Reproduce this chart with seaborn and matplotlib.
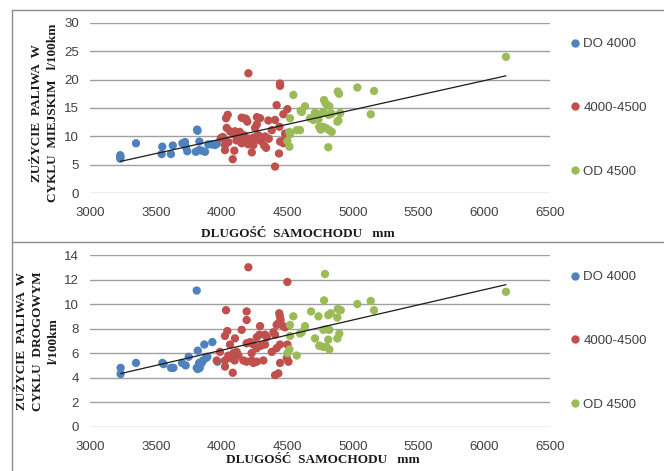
import numpy as np
import pandas as pd
import seaborn as sns
import matplotlib
matplotlib.use("Agg")
import matplotlib.pyplot as plt
from matplotlib.lines import Line2D

# ---- data: car length (mm) vs fuel consumption (l/100km) ----
groups = ["DO 4000", "4000-4500", "OD 4500"]
colors = ["#4F81BD", "#C0504D", "#9BBB59"]

# urban cycle
city_do4000_x = [3230, 3230, 3232, 3350, 3550, 3545, 3616, 3630, 3703, 3723, 3728, 3740,
                 3815, 3818, 3832, 3805, 3830, 3850, 3875, 3900, 3926, 3951, 3965]
city_do4000_y = [6.7, 6.1, 6.4, 8.8, 8.2, 6.9, 6.9, 8.4, 8.8, 9.0, 8.2, 7.4,
                 11.2, 11.0, 9.1, 7.3, 7.6, 7.5, 7.3, 8.6, 8.6, 8.5, 8.7]
city_mid_x = [4205, 4446, 4446, 4420, 4502, 4471, 4035, 4048, 4154, 4187, 4197, 4294,
              4357, 4408, 4168, 4270, 4040, 4256, 4269, 4441, 4065, 4103, 4091, 3995,
              4010, 4015, 4129, 4160, 4190, 4218, 4154, 4180, 4205, 4230, 4243, 4269,
              4281, 4332, 4383, 4446, 4471, 4497, 4484, 4492, 4027, 4053, 4027, 4098,
              4086, 4231, 4325, 4340, 4438, 4408, 4115, 4245, 4260, 4300, 4360, 4140,
              4175, 4472]
city_mid_y = [21.1, 19.3, 18.9, 15.5, 14.8, 13.9, 13.2, 13.8, 13.3, 13.1, 12.6, 13.2,
              12.8, 12.9, 13.2, 13.4, 11.5, 11.5, 12.1, 11.7, 10.9, 10.9, 10.4, 9.7,
              9.9, 9.7, 9.6, 9.6, 9.6, 9.6, 8.8, 9.0, 8.6, 9.0, 8.5, 10.0,
              10.2, 10.0, 11.1, 9.1, 9.2, 9.0, 10.5, 10.0, 8.5, 9.0, 7.6, 7.5,
              6.0, 7.2, 8.4, 8.0, 7.0, 4.7, 9.3, 9.8, 9.4, 9.2, 9.6, 10.8,
              10.2, 8.8]
city_od4500_x = [4547, 4636, 4603, 4712, 4687, 4522, 4573, 4517, 4522, 4502, 4517, 4744,
                 4611, 4781, 4790, 4805, 4821, 4885, 4895, 5034, 5161, 5136, 4903, 4890,
                 4882, 4750, 4775, 4815, 4839, 4674, 4700, 4738, 4750, 4776, 4800, 4755,
                 4821, 4839, 4813, 4598, 6165]
city_od4500_y = [17.3, 15.3, 14.5, 14.2, 13.3, 13.2, 11.1, 10.8, 10.4, 9.2, 8.2, 11.7,
                 14.3, 16.4, 15.9, 15.5, 15.3, 17.9, 17.5, 18.6, 18.0, 13.9, 14.1, 12.8,
                 12.6, 13.9, 14.3, 13.8, 14.0, 13.2, 12.9, 13.0, 11.6, 11.7, 11.4, 11.2,
                 11.1, 10.8, 8.1, 11.1, 24.0]

# highway cycle
road_do4000_x = [3233, 3233, 3350, 3551, 3560, 3617, 3635, 3700, 3728, 3751, 3812, 3820,
                 3812, 3835, 3830, 3850, 3860, 3870, 3883, 3893, 3931, 3970, 3820]
road_do4000_y = [4.8, 4.3, 5.2, 5.2, 5.1, 4.8, 4.8, 5.2, 5.0, 5.7, 11.1, 6.2,
                 4.8, 4.8, 5.2, 5.2, 5.4, 6.7, 5.6, 5.7, 6.9, 5.3, 4.7]
road_mid_x = [4205, 4502, 4035, 4192, 4192, 4440, 4445, 4450, 4430, 4420, 4470, 4484,
              4294, 4045, 4027, 4154, 4103, 4269, 4289, 4332, 4345, 4395, 4408, 4383,
              4446, 4420, 4502, 3989, 4065, 4053, 4091, 4116, 4071, 4103, 4027, 4129,
              3964, 4192, 4218, 4243, 4269, 4167, 4192, 4231, 4243, 4269, 4319, 4332,
              4027, 4086, 4446, 4497, 4510, 4408, 4433, 4230, 4300, 4100]
road_mid_y = [13.0, 11.8, 9.5, 9.4, 8.7, 9.25, 9.0, 8.7, 8.4, 8.3, 8.2, 8.1,
              8.2, 7.8, 7.4, 7.9, 7.2, 7.3, 7.5, 7.5, 7.3, 7.7, 7.5, 6.1,
              6.7, 6.4, 6.7, 6.1, 6.7, 5.8, 6.0, 6.1, 5.6, 5.7, 5.4, 5.8,
              5.4, 6.8, 6.9, 6.7, 6.4, 5.4, 5.3, 5.4, 5.2, 5.3, 5.4, 6.7,
              4.9, 4.4, 5.2, 5.6, 5.3, 4.2, 4.35, 6.0, 6.6, 5.4]
road_od4500_x = [4788, 4781, 5034, 5136, 5161, 4682, 4738, 4813, 4831, 4885, 4908, 4882,
                 4636, 4611, 4776, 4800, 4821, 4712, 4813, 4897, 4882, 4750, 4776, 4800,
                 4821, 4547, 4522, 4598, 4522, 4517, 4502, 4573, 4744, 6165]
road_od4500_y = [12.45, 10.3, 10.0, 10.25, 9.5, 9.4, 9.0, 9.1, 9.25, 9.6, 9.5, 8.9,
                 8.2, 7.7, 7.9, 7.95, 7.9, 7.2, 7.1, 7.6, 7.2, 6.6, 6.5, 6.5,
                 6.3, 9.0, 8.3, 7.6, 7.4, 6.3, 6.0, 5.8, 6.6, 11.0]

x_ticks = [3000, 3500, 4000, 4500, 5000, 5500, 6000, 6500]
city_ticks = [0, 5, 10, 15, 20, 25, 30]
road_ticks = [0, 2, 4, 6, 8, 10, 12, 14]

x_label = "DLUGOŚĆ  SAMOCHODU   mm"
city_label = "ZUŻYCIE  PALIWA  W\nCYKLU  MIEJSKIM   l/100km"
road_label = "ZUŻYCIE  PALIWA  W\nCYKLU  DROGOWYM\nl/100km"


def frame(xs, ys):
    parts = []
    for g, x, y in zip(groups, xs, ys):
        parts.append(pd.DataFrame({"x": x, "y": y, "grupa": g}))
    return pd.concat(parts, ignore_index=True)


city = frame([city_do4000_x, city_mid_x, city_od4500_x],
             [city_do4000_y, city_mid_y, city_od4500_y])
road = frame([road_do4000_x, road_mid_x, road_od4500_x],
             [road_do4000_y, road_mid_y, road_od4500_y])

sns.set_theme(style="white")
plt.rcParams["font.family"] = ["Liberation Sans", "DejaVu Sans"]

W, H = 664, 471
fig = plt.figure(figsize=(W / 100, H / 100), dpi=100)


def box(l, t, r, b):
    return [l / W, 1 - b / H, (r - l) / W, (b - t) / H]


ax1 = fig.add_axes(box(90, 22.7, 550, 193.3))
ax2 = fig.add_axes(box(90, 255, 550, 426.7))

tick_color = "#404040"
serif = ["Liberation Serif", "DejaVu Serif"]

for ax, df, yt in [(ax1, city, city_ticks), (ax2, road, road_ticks)]:
    sns.scatterplot(data=df, x="x", y="y", hue="grupa", hue_order=groups,
                    palette=colors, s=36, linewidth=0, alpha=1, ax=ax,
                    legend=False, zorder=3)
    sns.regplot(data=df, x="x", y="y", scatter=False, ci=None, truncate=True,
                line_kws={"color": "#1a1a1a", "lw": 0.9, "zorder": 4}, ax=ax)
    ax.set_xlim(x_ticks[0], x_ticks[-1])
    ax.set_ylim(yt[0], yt[-1])
    ax.set_xticks(x_ticks)
    ax.set_yticks(yt)
    ax.set_xlabel("")
    ax.set_ylabel("")
    ax.yaxis.grid(True, color="#a0a0a0", lw=1.0)
    ax.xaxis.grid(False)
    ax.set_axisbelow(True)
    for s in ax.spines.values():
        s.set_visible(False)
    ax.tick_params(length=0, labelsize=9.5, colors=tick_color)
    ax.tick_params(axis="x", pad=10)
    ax.tick_params(axis="y", pad=8)
    ax.patch.set_alpha(0)

    handles = [Line2D([], [], marker="o", ls="", color=c, markersize=5)
               for c in colors]
    ax.legend(handles, groups, loc="center left", bbox_to_anchor=(1.015, 0.5),
              frameon=False, labelspacing=3.9, handletextpad=0.1,
              handlelength=1.0, fontsize=9.5, labelcolor=tick_color)

# axis titles
fig.text(298 / W, 1 - 234 / H, x_label, ha="center", va="center",
         family=serif, weight="bold", fontsize=9.5, color="#1a1a1a")
fig.text(323 / W, 1 - 460 / H, x_label, ha="center", va="center",
         family=serif, weight="bold", fontsize=9.5, color="#1a1a1a")
fig.text(45 / W, 1 - 113 / H, city_label, ha="center", va="center",
         rotation=90, family=serif, weight="bold", fontsize=9.5,
         color="#1a1a1a", linespacing=1.4, multialignment="center")
fig.text(38 / W, 1 - 341 / H, road_label, ha="center", va="center",
         rotation=90, family=serif, weight="bold", fontsize=9.5,
         color="#1a1a1a", linespacing=1.4, multialignment="center")

# chart frames
frame_color = "#8c8c8c"
fig.add_artist(Line2D([11.5 / W, 1], [1 - 10 / H, 1 - 10 / H],
                      color=frame_color, lw=1))
fig.add_artist(Line2D([11.5 / W, 11.5 / W], [1 - 10 / H, 0],
                      color=frame_color, lw=1))
fig.add_artist(Line2D([11.5 / W, 1], [1 - 242 / H, 1 - 242 / H],
                      color=frame_color, lw=1))

fig.savefig("out.png", dpi=100)
